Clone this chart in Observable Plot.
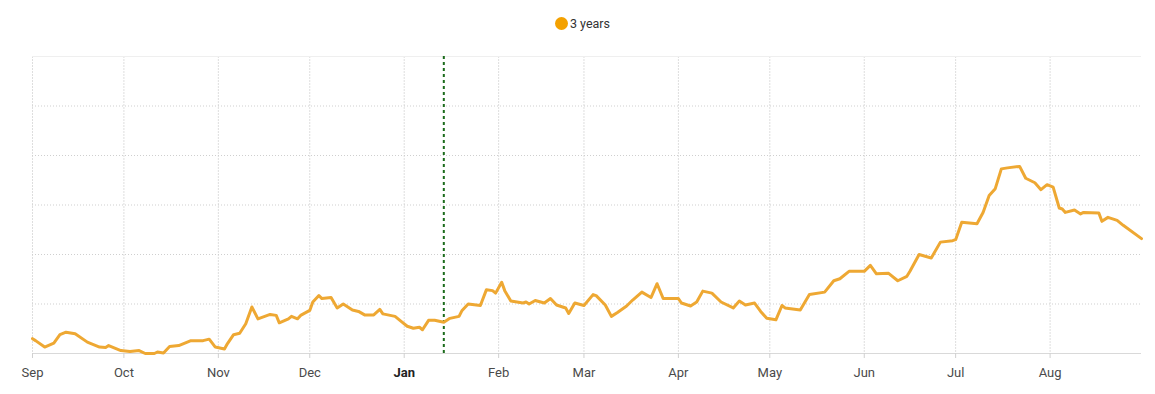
<!DOCTYPE html>
<html><head><meta charset="utf-8">
<script src="https://cdn.jsdelivr.net/npm/d3@7"></script>
<script src="https://cdn.jsdelivr.net/npm/@observablehq/plot@0.6"></script>
<style>
body{margin:0;background:#fff;font-family:Roboto,"Helvetica Neue",Arial,sans-serif;}
#legend{height:34px;padding-top:6px;display:flex;justify-content:center;align-items:center;font-size:12.5px;color:#333;box-sizing:content-box;padding-left:10px}
#legend .dot{display:inline-block;width:13px;height:13px;border-radius:50%;background:#f4a100;margin-right:2px}
</style></head><body>
<div id="legend"><span class="dot"></span><span>3 years</span></div>
<div id="chart"></div>
<script>
const seriesName = "3 years";
const dates = [
"2022-09-01","2022-09-02","2022-09-05","2022-09-08","2022-09-10","2022-09-12","2022-09-15","2022-09-19","2022-09-23","2022-09-25","2022-09-26","2022-09-30",
"2022-10-03","2022-10-06","2022-10-08","2022-10-11","2022-10-12","2022-10-14","2022-10-16","2022-10-19","2022-10-21","2022-10-23","2022-10-27","2022-10-29","2022-10-31",
"2022-11-03","2022-11-04","2022-11-06","2022-11-08","2022-11-10","2022-11-12","2022-11-14","2022-11-18","2022-11-20","2022-11-21","2022-11-24","2022-11-25","2022-11-27","2022-11-28",
"2022-12-01","2022-12-02","2022-12-04","2022-12-05","2022-12-08","2022-12-10","2022-12-12","2022-12-15","2022-12-17","2022-12-19","2022-12-22","2022-12-24","2022-12-25","2022-12-29","2022-12-31",
"2023-01-02","2023-01-04","2023-01-06","2023-01-07","2023-01-09","2023-01-11","2023-01-14","2023-01-16","2023-01-19","2023-01-20","2023-01-22","2023-01-26","2023-01-28","2023-01-30","2023-01-31",
"2023-02-02","2023-02-03","2023-02-05","2023-02-09","2023-02-10","2023-02-11","2023-02-13","2023-02-16","2023-02-18","2023-02-20","2023-02-23","2023-02-24","2023-02-26",
"2023-03-01","2023-03-04","2023-03-05","2023-03-08","2023-03-10","2023-03-12","2023-03-15","2023-03-17","2023-03-20","2023-03-23","2023-03-25","2023-03-27",
"2023-04-01","2023-04-02","2023-04-05","2023-04-07","2023-04-09","2023-04-12","2023-04-15","2023-04-19","2023-04-21","2023-04-23","2023-04-26","2023-04-28","2023-04-30",
"2023-05-03","2023-05-05","2023-05-06","2023-05-11","2023-05-14","2023-05-19","2023-05-22","2023-05-24","2023-05-27",
"2023-06-01","2023-06-03","2023-06-05","2023-06-09","2023-06-12","2023-06-15","2023-06-16","2023-06-19","2023-06-23","2023-06-26","2023-06-30",
"2023-07-01","2023-07-03","2023-07-08","2023-07-10","2023-07-12","2023-07-14","2023-07-16","2023-07-18","2023-07-22","2023-07-24","2023-07-27","2023-07-29","2023-07-31",
"2023-08-02","2023-08-04","2023-08-05","2023-08-06","2023-08-09","2023-08-11","2023-08-12","2023-08-17","2023-08-18","2023-08-20","2023-08-23","2023-08-25","2023-08-31"
];
const values = [
0.30,0.26,0.13,0.21,0.38,0.43,0.40,0.23,0.13,0.12,0.16,0.06,
0.04,0.06,0.00,0.00,0.03,0.01,0.14,0.16,0.21,0.26,0.26,0.29,0.13,
0.09,0.20,0.38,0.41,0.60,0.94,0.70,0.79,0.77,0.62,0.70,0.75,0.70,0.77,
0.87,1.04,1.17,1.11,1.13,0.92,1.00,0.88,0.85,0.78,0.78,0.89,0.80,0.75,0.65,
0.55,0.51,0.53,0.48,0.67,0.67,0.63,0.71,0.75,0.87,1.00,0.97,1.29,1.27,1.22,
1.44,1.27,1.06,1.02,1.04,1.00,1.07,1.02,1.11,0.98,0.92,0.81,1.02,
0.97,1.19,1.17,0.98,0.75,0.83,0.96,1.08,1.24,1.13,1.41,1.11,
1.11,1.02,0.96,1.04,1.26,1.22,1.04,0.92,1.06,0.98,1.02,0.85,0.71,
0.68,0.97,0.92,0.88,1.19,1.24,1.47,1.51,1.66,
1.66,1.78,1.61,1.62,1.47,1.56,1.66,2.00,1.93,2.25,2.28,
2.30,2.65,2.62,2.85,3.19,3.33,3.73,3.75,3.78,3.54,3.45,3.31,3.41,
3.36,2.94,2.92,2.85,2.90,2.82,2.85,2.84,2.67,2.75,2.69,2.59,2.32
];
const tickDates = ["2022-09-01","2022-10-01","2022-11-01","2022-12-01","2023-01-01","2023-02-01","2023-03-01","2023-04-01","2023-05-01","2023-06-01","2023-07-01","2023-08-01"];
const tickLabels = ["Sep","Oct","Nov","Dec","Jan","Feb","Mar","Apr","May","Jun","Jul","Aug"];
const boldLabel = "Jan";
const xDomain = ["2022-09-01","2023-08-31"];
const yGrid = [1,2,3,4,5];
const yDomain = [0,6];
const markerDate = "2023-01-14";

const data = dates.map((d,i)=>({date:new Date(d), value:values[i]}));
const ticks = tickDates.map(d=>new Date(d));
const labelOf = new Map(ticks.map((t,i)=>[+t, tickLabels[i]]));
const regularTicks = ticks.filter(t=>labelOf.get(+t)!==boldLabel);
const boldTicks = ticks.filter(t=>labelOf.get(+t)===boldLabel);

const chart = Plot.plot({
  width:1155, height:354,
  marginLeft:32, marginRight:14, marginTop:16, marginBottom:41,
  style:{fontFamily:"Roboto, 'Helvetica Neue', Arial, sans-serif", fontSize:"13px", background:"#fff", overflow:"visible"},
  x:{type:"utc", domain:xDomain.map(d=>new Date(d))},
  y:{domain:yDomain, axis:null},
  marks:[
    Plot.ruleX(ticks, {stroke:"#dedede", strokeWidth:1, strokeDasharray:"2,1"}),
    Plot.ruleY(yGrid, {stroke:"#cfcfcf", strokeDasharray:"1,2"}),
    Plot.ruleY([yDomain[1]], {stroke:"#efefef"}),
    Plot.ruleY([yDomain[0]], {stroke:"#d9d9d9"}),
    Plot.axisX(regularTicks, {tickFormat:d=>labelOf.get(+d), tickSize:5, tickPadding:9, stroke:"#d0d0d0", fill:"#4a4a4a", fontSize:13}),
    Plot.axisX(boldTicks, {tickFormat:d=>labelOf.get(+d), tickSize:5, tickPadding:9, stroke:"#d0d0d0", fill:"#222", fontWeight:"bold", fontSize:13}),
    Plot.ruleX([new Date(markerDate)], {stroke:"#1b6b1b", strokeWidth:2, strokeDasharray:"3,3"}),
    Plot.line(data, {x:"date", y:"value", stroke:"#eea833", strokeWidth:3, strokeLinejoin:"round"})
  ]
});
document.getElementById("chart").append(chart);
</script>
</body></html>
